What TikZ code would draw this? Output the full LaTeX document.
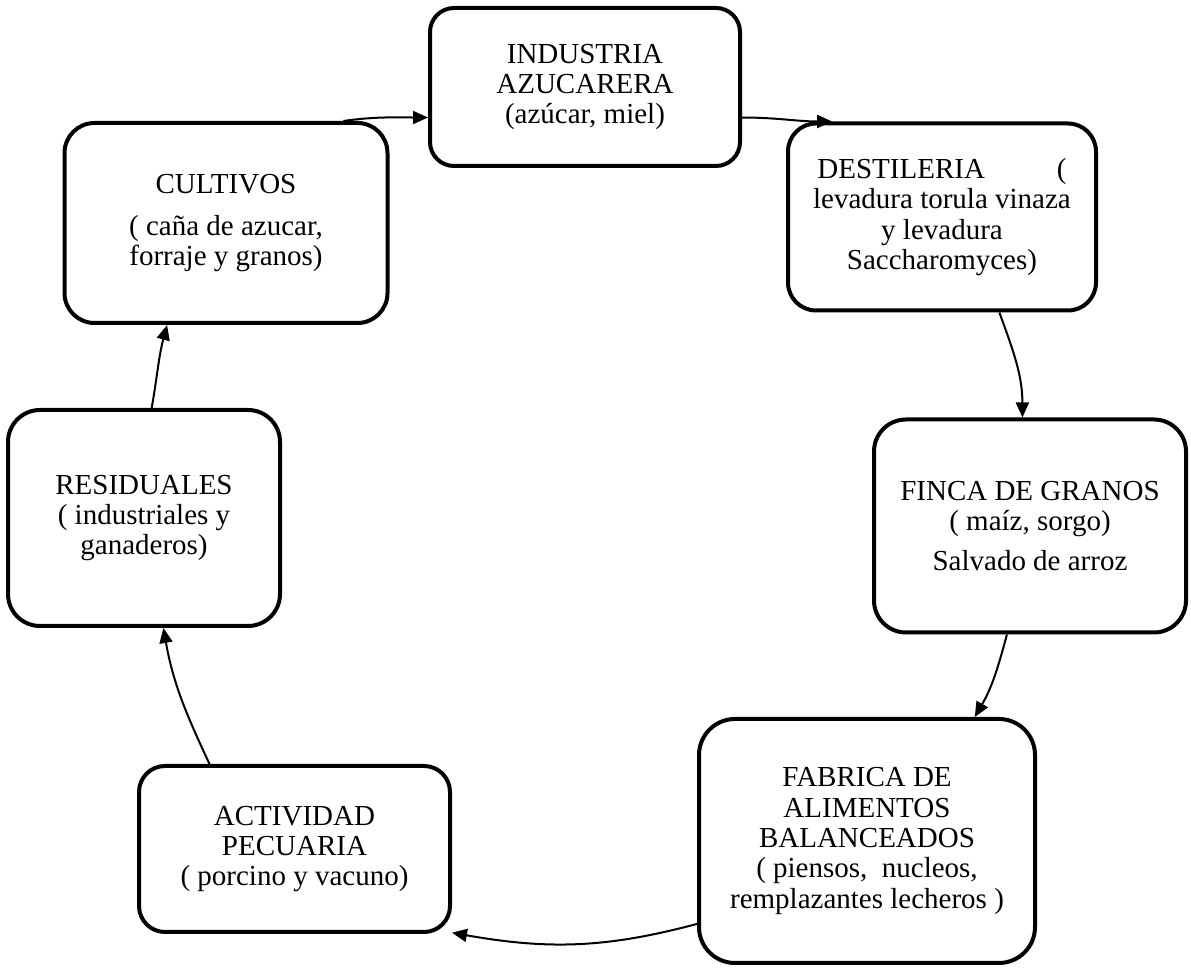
\documentclass[tikz,border=0pt]{standalone}
\usepackage{fontspec}
\setmainfont{Liberation Serif}
\usetikzlibrary{arrows.meta}

\begin{document}
\begin{tikzpicture}[x=0.5pt,y=0.5pt]
    \tikzset{
    ciclo node/.style={draw,rounded corners=15pt,line width=2pt,align=center,inner sep=0,font=\fontsize{14.5pt}{15.2pt}\selectfont},
    ciclo edge/.style={line width=1pt,-{Triangle[length=7.5pt,width=6.5pt]}}
    }
    \useasboundingbox (0,0) rectangle (1191,969);
    \node[ciclo node,rounded corners=12pt,minimum width=155pt,minimum height=79pt] (1) at (585,882) {INDUSTRIA\\AZUCARERA\\(azúcar, miel)};
    \node[ciclo node,rounded corners=14pt,minimum width=154pt,minimum height=93.5pt] (2) at (942,752) {DESTILERIA\hspace{36pt}(\\levadura torula vinaza\\y levadura\\Saccharomyces)};
    \node[ciclo node,rounded corners=16pt,minimum width=156pt,minimum height=106.5pt] (3) at (1030,443) {FINCA DE GRANOS\\( maíz, sorgo)\\[5pt]Salvado de arroz};
    \node[ciclo node,rounded corners=18pt,minimum width=168pt,minimum height=122pt] (4) at (867,128) {FABRICA DE\\ALIMENTOS\\BALANCEADOS\\( piensos,\ \ nucleos,\\remplazantes lecheros )};
    \node[ciclo node,rounded corners=13pt,minimum width=155.5pt,minimum height=83pt] (5) at (294.5,120) {ACTIVIDAD\\PECUARIA\\( porcino y vacuno)};
    \node[ciclo node,rounded corners=16pt,minimum width=136pt,minimum height=108pt] (6) at (144,451) {RESIDUALES\\( industriales y\\ganaderos)};
    \node[ciclo node,minimum width=161.5pt,minimum height=100pt] (7) at (226,746) {CULTIVOS\\[6pt]( caña de azucar,\\forraje y granos)};

    \path[ciclo edge]
    (7.41) edge[out=8,in=180] (1.191)
    (1.349) edge[out=0,in=180] (2.139)
    (2.301) edge[out=290,in=90] (3.94)
    (3.258) edge[out=255,in=60] (4.49)
    (4.206) edge[out=195,in=350] (5.332)
    (5.135) edge[out=115,in=280] (6.280)
    (6.86) edge[out=80,in=255] (7.240)
    ;
\end{tikzpicture}
\end{document}
